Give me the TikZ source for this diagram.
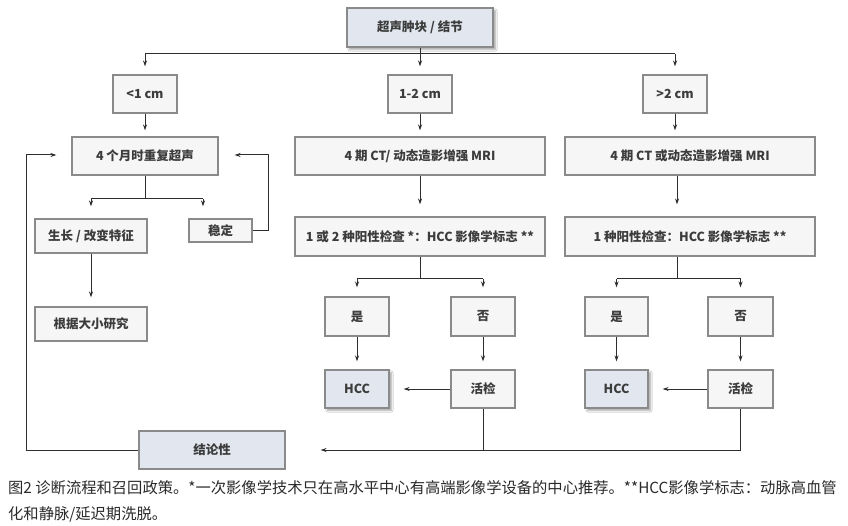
\documentclass[tikz,border=0pt]{standalone}
\usepackage{fontspec}
\newfontfamily\cjk{Noto Sans CJK SC}
\usetikzlibrary{arrows.meta,shadows.blur}
\definecolor{boxline}{HTML}{8A8A8A}
\definecolor{boxfill}{HTML}{F6F6F6}
\definecolor{hifill}{HTML}{E2E7EF}
\definecolor{txt}{HTML}{3C3C3C}
\definecolor{conn}{HTML}{2E2E2E}
\definecolor{captxt}{HTML}{2A2A2A}
\begin{document}
\begin{tikzpicture}[x=1pt,y=-1pt,
  box/.style={draw=boxline,line width=1.1pt,fill=boxfill,inner sep=0pt,
    font=\cjk\bfseries\fontsize{12.5}{14}\selectfont,text=txt},
  hibox/.style={box,fill=hifill,blur shadow={shadow xshift=2.5pt,shadow yshift=-2.5pt,shadow blur steps=6,shadow opacity=35}},
  conline/.style={draw=conn,line width=1pt},
  arr/.style={conline,-{Stealth[length=6pt,width=4pt]}},
  captext/.style={anchor=west,inner sep=0pt,text=captxt,font=\cjk\fontsize{15.3}{17}\selectfont}]
\useasboundingbox[fill=white] (0,0) rectangle (848,526);
% nodes
\node[hibox,minimum width=146pt,minimum height=39pt] (top) at (420,27.5) {超声肿块 / 结节};
\node[box,minimum width=64pt,minimum height=38pt] (lt1) at (145,94) {<1 cm};
\node[box,minimum width=64pt,minimum height=38pt] (m12) at (420,94) {1-2 cm};
\node[box,minimum width=64pt,minimum height=38pt] (gt2) at (675,94) {>2 cm};
\node[box,minimum width=146pt,minimum height=38pt] (rep) at (145,156) {4 个月时重复超声};
\node[box,minimum width=250pt,minimum height=38pt] (ctA) at (420,156) {4 期 CT/ 动态造影增强 MRI};
\node[box,minimum width=250pt,minimum height=38pt] (ctB) at (690,156) {4 期 CT 或动态造影增强 MRI};
\node[box,minimum width=112pt,minimum height=34pt] (grow) at (91,236) {生长 / 改变特征};
\node[box,minimum width=63pt,minimum height=23pt] (stab) at (220.5,230.5) {稳定};
\node[box,minimum width=112pt,minimum height=34pt] (study) at (91,324) {根据大小研究};
\node[box,minimum width=250pt,minimum height=39pt] (posA) at (420,236.5) {1 或 2 种阳性检查 *：HCC 影像学标志 **};
\node[box,minimum width=250pt,minimum height=39pt] (posB) at (690,236.5) {1 种阳性检查：HCC 影像学标志 **};
\node[box,minimum width=64pt,minimum height=39pt] (yesA) at (357,316.5) {是};
\node[box,minimum width=64pt,minimum height=39pt] (noA) at (483,316.5) {否};
\node[hibox,minimum width=64pt,minimum height=38pt] (hccA) at (357,389) {HCC};
\node[box,minimum width=64pt,minimum height=38pt] (bioA) at (483,389) {活检};
\node[box,minimum width=63pt,minimum height=39pt] (yesB) at (616.5,316.5) {是};
\node[box,minimum width=65pt,minimum height=39pt] (noB) at (740.5,316.5) {否};
\node[hibox,minimum width=63pt,minimum height=38pt] (hccB) at (616.5,389) {HCC};
\node[box,minimum width=65pt,minimum height=38pt] (bioB) at (740.5,389) {活检};
\node[box,fill=hifill,minimum width=146pt,minimum height=38pt] (concl) at (212,450) {结论性};
% coordinates
\coordinate (s0) at (420,54);
\coordinate (s1) at (145,199);
\coordinate (s1r) at (203,199);
\coordinate (sA) at (420,279);
\coordinate (sB) at (677,279);
\coordinate (lb) at (26,450);
\coordinate (lt) at (26,155);
\coordinate (rt) at (268,155);
\coordinate (bot) at (740.5,450);
% top split
\draw[conline] (top.south) -- (s0);
\draw[conline] (lt1.north |- s0) -- (gt2.north |- s0);
\draw[arr,shorten >=8pt] (lt1.north |- s0) -- (lt1.north);
\draw[arr,shorten >=8pt] (s0) -- (m12.north);
\draw[arr,shorten >=8pt] (gt2.north |- s0) -- (gt2.north);
% size to next
\draw[arr,shorten >=6pt] (lt1.south) -- (rep.north);
\draw[arr,shorten >=6pt] (m12.south) -- (ctA.north);
\draw[arr,shorten >=6pt] (gt2.south) -- (gt2.south |- ctB.north);
% left branch
\draw[conline] (rep.south) -- (s1);
\draw[conline] (s1 -| grow.north) -- (s1r);
\draw[arr,shorten >=12pt] (s1 -| grow.north) -- (grow.north);
\draw[arr,shorten >=12pt] (s1r) -- (stab.north -| s1r);
\draw[arr,shorten >=9pt] (grow.south) -- (study.north);
\draw[arr,shorten >=16pt] (stab.east) -| (rt) -- (rep.east |- rt);
\draw[arr,shorten >=15pt] (concl.west) -- (lb) -- (lt) -- (rep.west |- lt);
% middle
\draw[arr,shorten >=12pt] (ctA.south) -- (posA.north);
\draw[conline] (posA.south) -- (sA);
\draw[conline] (sA -| yesA.north) -- (sA -| noA.north);
\draw[arr,shorten >=9pt] (sA -| yesA.north) -- (yesA.north);
\draw[arr,shorten >=9pt] (sA -| noA.north) -- (noA.north);
\draw[arr,shorten >=8pt] (yesA.south) -- (hccA.north);
\draw[arr,shorten >=8pt] (noA.south) -- (bioA.north);
\draw[arr,shorten >=14pt] (bioA.west) -- (hccA.east);
% right
\draw[arr,shorten >=12pt] (ctB.south -| sB) -- (posB.north -| sB);
\draw[conline] (posB.south -| sB) -- (sB);
\draw[conline] (sB -| yesB.north) -- (sB -| noB.north);
\draw[arr,shorten >=9pt] (sB -| yesB.north) -- (yesB.north);
\draw[arr,shorten >=9pt] (sB -| noB.north) -- (noB.north);
\draw[arr,shorten >=8pt] (yesB.south) -- (hccB.north);
\draw[arr,shorten >=8pt] (noB.south) -- (bioB.north);
\draw[arr,shorten >=14pt] (bioB.west) -- (hccB.east);
% bottom return
\draw[conline] (bioA.south) -- (bioA.south |- bot);
\draw[arr,shorten >=35pt] (bioB.south) -- (bot) -- (concl.east |- bot);
% caption
\node[captext] (cap1) at (8,488) {图2 诊断流程和召回政策。*一次影像学技术只在高水平中心有高端影像学设备的中心推荐。**HCC影像学标志：动脉高血管};
\node[captext] (cap2) at (8,514) {化和静脉/延迟期洗脱。};
\end{tikzpicture}
\end{document}
